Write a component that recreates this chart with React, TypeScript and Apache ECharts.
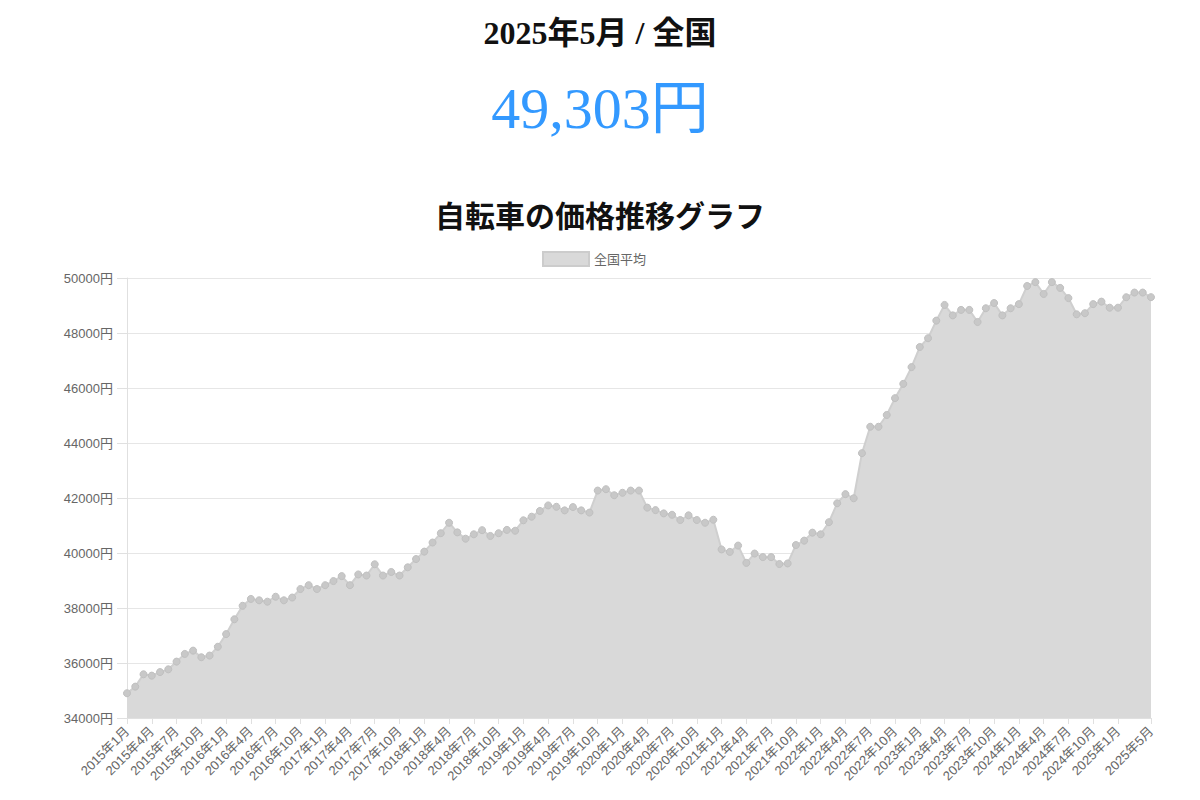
import { FC, useEffect, useRef } from "react";
import * as echarts from "echarts";

// 月次カテゴリ（2015年1月〜2025年5月）
const months: string[] = [];
for (let y = 2015; y <= 2025; y++) {
    for (let m = 1; m <= 12; m++) {
        if (y === 2025 && m > 5) break;
        months.push(`${y}年${m}月`);
    }
}

// 全国平均価格（円）
const nationalAvg: number[] = [
    34900, 35140, 35590, 35540, 35670, 35770, 36050, 36330, 36450, 36210, 36270, 36590,
    37050, 37590, 38080, 38330, 38280, 38230, 38410, 38280, 38380, 38690, 38830, 38690,
    38830, 38980, 39160, 38830, 39220, 39180, 39590, 39180, 39310, 39180, 39480, 39780,
    40050, 40380, 40720, 41100, 40750, 40520, 40680, 40830, 40620, 40720, 40840, 40810,
    41190, 41320, 41530, 41730, 41680, 41550, 41670, 41550, 41470, 42270, 42320, 42100,
    42190, 42270, 42270, 41650, 41560, 41440, 41390, 41200, 41370, 41200, 41100, 41210,
    40130, 40040, 40270, 39640, 39980, 39850, 39850, 39600, 39620, 40290, 40450, 40740,
    40680, 41120, 41810, 42140, 41990, 43630, 44590, 44590, 45020, 45630, 46150, 46760,
    47490, 47810, 48450, 49020, 48640, 48840, 48840, 48400, 48900, 49090, 48640, 48900,
    49050, 49710, 49850, 49420, 49850, 49640, 49270, 48680, 48720, 49050, 49140, 48920,
    48920, 49300, 49470, 49470, 49303,
];

const headline = "2025年5月 / 全国";
const latestPrice = "49,303円";
const chartTitle = "自転車の価格推移グラフ";
const seriesName = "全国平均";

const serif = "'Liberation Serif', 'Noto Sans CJK JP', serif";
const sans = "'Liberation Sans', 'Noto Sans CJK JP', sans-serif";

const App: FC = () => {
    const chartRef = useRef<HTMLDivElement>(null);

    useEffect(() => {
        if (!chartRef.current) return;
        const chart = echarts.init(chartRef.current, undefined, { renderer: "svg" });

        const lastIdx = months.length - 1;
        // 3ヶ月ごと＋最終月（直前の4月は省略）
        const showLabel = (i: number) =>
            i === lastIdx || (i % 3 === 0 && i < lastIdx - 1);

        chart.setOption({
            animation: false,
            backgroundColor: "#ffffff",
            title: [
                {
                    text: headline,
                    left: "center",
                    top: 12,
                    textStyle: { fontFamily: serif, fontSize: 32, fontWeight: "bold", color: "#111" },
                },
                {
                    text: latestPrice,
                    left: "center",
                    top: 74,
                    textStyle: { fontFamily: serif, fontSize: 58, fontWeight: "normal", color: "#3399ff" },
                },
                {
                    text: chartTitle,
                    left: "center",
                    top: 196,
                    textStyle: { fontFamily: serif, fontSize: 30, fontWeight: "bold", color: "#111" },
                },
            ],
            legend: {
                data: [seriesName],
                top: 246,
                left: 537,
                icon: "rect",
                itemWidth: 46,
                itemHeight: 14,
                itemGap: 10,
                textStyle: { fontFamily: sans, fontSize: 13, color: "#666" },
                itemStyle: { color: "#d9d9d9", borderColor: "#cccccc", borderWidth: 2 },
            },
            grid: { left: 127, right: 49, top: 278, bottom: 82 },
            xAxis: {
                type: "category",
                data: months,
                boundaryGap: false,
                axisLine: { show: true, lineStyle: { color: "#e0e0e0" } },
                axisTick: {
                    show: true,
                    length: 6,
                    lineStyle: { color: "#e0e0e0" },
                    interval: showLabel,
                },
                axisLabel: {
                    rotate: 45,
                    fontFamily: sans,
                    fontSize: 13,
                    color: "#666",
                    margin: 11,
                    interval: showLabel,
                },
                splitLine: { show: false },
            },
            yAxis: {
                type: "value",
                min: 34000,
                max: 50000,
                interval: 2000,
                axisLine: { show: true, lineStyle: { color: "#e0e0e0" } },
                axisTick: { show: true, length: 10, lineStyle: { color: "#e0e0e0" } },
                axisLabel: {
                    formatter: (v: number) => `${v}円`,
                    fontFamily: sans,
                    fontSize: 13,
                    color: "#666",
                    margin: 14,
                },
                splitLine: { show: true, lineStyle: { color: "#e6e6e6", width: 1 } },
            },
            series: [
                {
                    name: seriesName,
                    type: "line",
                    data: nationalAvg,
                    symbol: "circle",
                    symbolSize: 7,
                    showAllSymbol: true,
                    lineStyle: { color: "#cfcfcf", width: 2 },
                    itemStyle: { color: "#c8c8c8", borderColor: "#c0c0c0", borderWidth: 1 },
                    areaStyle: { color: "#d9d9d9", opacity: 1 },
                },
            ],
        });

        return () => {
            chart.dispose();
        };
    }, []);

    return (
        <div
            ref={chartRef}
            style={{ position: "fixed", left: 0, top: 0, width: 1200, height: 800 }}
        />
    );
};

export default App;
